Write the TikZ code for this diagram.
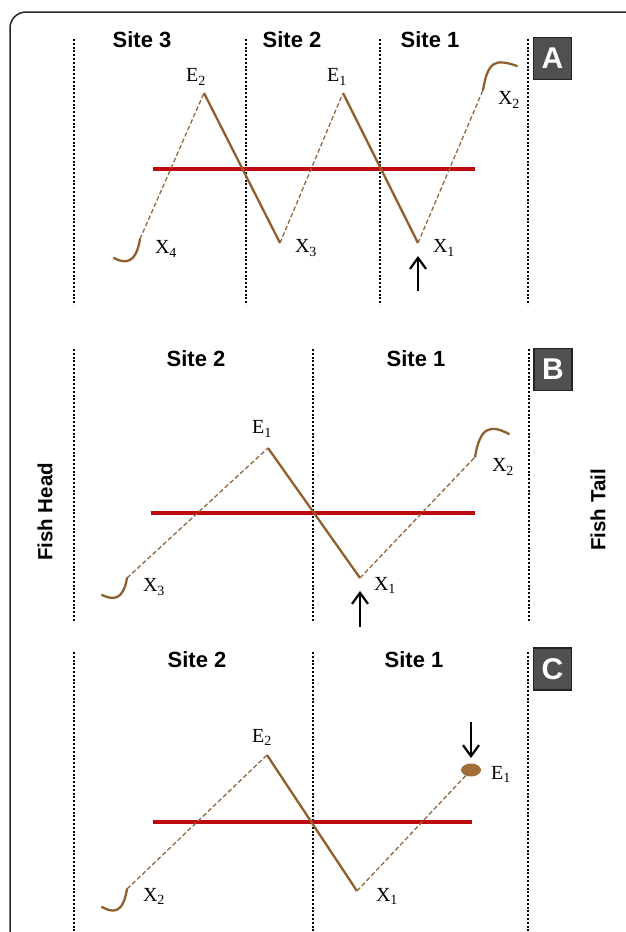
\documentclass[tikz,border=0pt]{standalone}
\usepackage{fontspec}
\setmainfont{Liberation Serif}
\setsansfont{Liberation Sans}
\usetikzlibrary{arrows.meta,shapes.geometric}
\definecolor{solidbrown}{RGB}{145,95,45}
\definecolor{dashbrown}{RGB}{145,105,65}
\definecolor{redline}{RGB}{190,10,15}
\definecolor{boxgray}{RGB}{80,80,80}
\definecolor{boxedge}{RGB}{35,35,35}
\definecolor{dotbrown}{RGB}{160,110,55}
\tikzset{
 sitediv/.style={line width=2.2pt, dash pattern=on 2pt off 1.8pt},
 solidseg/.style={draw=solidbrown, line width=2.3pt},
 dashseg/.style={draw=dashbrown, line width=1.3pt, dash pattern=on 4.5pt off 2.5pt},
 hookseg/.style={draw=solidbrown, line width=2.3pt, line cap=round},
 midline/.style={draw=redline, line width=4pt},
 sitelabel/.style={font=\sffamily\bfseries\fontsize{22}{24}\selectfont, inner sep=0pt},
 ptlabel/.style={font=\fontsize{20}{22}\selectfont, inner sep=0pt},
 panelbox/.style={fill=boxgray, draw=boxedge, line width=1.5pt, minimum width=38pt, minimum height=42pt, inner sep=0pt, text=white, font=\sffamily\bfseries\fontsize{30}{30}\selectfont},
 markarrow/.style={line width=2.2pt, -{Straight Barb[length=11pt,width=16pt,line width=2.2pt]}},
 sidelabel/.style={font=\sffamily\bfseries\fontsize{20.5}{24}\selectfont, rotate=90, inner sep=0pt},
 framebox/.style={draw=black!85, line width=1.5pt, rounded corners=16pt},
}
\begin{document}
\begin{tikzpicture}[x=1pt,y=-1pt]
\useasboundingbox (0,0) rectangle (625,932);
% outer frame
\coordinate (fb) at (10,940);
\coordinate (ft) at (10,12);
\coordinate (fr) at (640,12);
\draw[framebox] (fb) -- (ft) -- (fr);

% ================= Panel A =================
\foreach \n/\x in {1/74,2/246,3/380,4/528}{
  \coordinate (aDt\n) at (\x,39);
  \coordinate (aDb\n) at (\x,305);
  \draw[sitediv] (aDt\n) -- (aDb\n);
}
\node[sitelabel] (aS3) at (142,40) {Site 3};
\node[sitelabel] (aS2) at (292,40) {Site 2};
\node[sitelabel] (aS1) at (430,40) {Site 1};
\node[panelbox] (aBox) at (552.5,58.5) {A};

\coordinate (aRL) at (153,169);
\coordinate (aRR) at (475,169);
\draw[midline] (aRL) -- (aRR);

\coordinate (aX4top) at (140,239);
\coordinate (aX4end) at (114,258);
\coordinate (aE2) at (204,93);
\coordinate (aX3) at (280,243);
\coordinate (aE1) at (343,93);
\coordinate (aX1) at (418,243);
\coordinate (aX2top) at (483,90);
\coordinate (aX2end) at (517,66);
\draw[hookseg] (aX4top) .. controls (136,264) and (125,264) .. (aX4end);
\draw[dashseg] (aX4top) -- (aE2);
\draw[solidseg] (aE2) -- (aX3);
\draw[dashseg] (aX3) -- (aE1);
\draw[solidseg] (aE1) -- (aX1);
\draw[dashseg] (aX1) -- (aX2top);
\draw[hookseg] (aX2top) .. controls (488,62) and (494,58) .. (aX2end);

\node[ptlabel] (aLE2) at (196,77) {E\textsubscript{2}};
\node[ptlabel] (aLE1) at (337,77) {E\textsubscript{1}};
\node[ptlabel] (aLX4) at (166,249) {X\textsubscript{4}};
\node[ptlabel] (aLX3) at (306,248) {X\textsubscript{3}};
\node[ptlabel] (aLX1) at (444,248) {X\textsubscript{1}};
\node[ptlabel] (aLX2) at (509,100) {X\textsubscript{2}};

\coordinate (aArT) at (418,291);
\coordinate (aArH) at (418,256);
\draw[markarrow] (aArT) -- (aArH);

% ================= Panel B =================
\foreach \n/\x in {1/74,2/313,3/529}{
  \coordinate (bDt\n) at (\x,349);
  \coordinate (bDb\n) at (\x,622);
  \draw[sitediv] (bDt\n) -- (bDb\n);
}
\node[sitelabel] (bS2) at (196,359) {Site 2};
\node[sitelabel] (bS1) at (416,359) {Site 1};
\node[panelbox] (bBox) at (553,369.5) {B};

\node[sidelabel] (head) at (45,512) {Fish Head};
\node[sidelabel] (tail) at (598,510) {Fish Tail};

\coordinate (bRL) at (151,513);
\coordinate (bRR) at (475,513);
\draw[midline] (bRL) -- (bRR);

\coordinate (bX3top) at (127,578);
\coordinate (bX3end) at (102,595);
\coordinate (bE1) at (268,448);
\coordinate (bX1) at (360,578);
\coordinate (bX2top) at (475,457);
\coordinate (bX2end) at (509,434);
\draw[hookseg] (bX3top) .. controls (123,601) and (113,600) .. (bX3end);
\draw[dashseg] (bX3top) -- (bE1);
\draw[solidseg] (bE1) -- (bX1);
\draw[dashseg] (bX1) -- (bX2top);
\draw[hookseg] (bX2top) .. controls (480,427) and (490,424) .. (bX2end);

\node[ptlabel] (bLE1) at (262,429) {E\textsubscript{1}};
\node[ptlabel] (bLX3) at (154,587) {X\textsubscript{3}};
\node[ptlabel] (bLX1) at (385,585) {X\textsubscript{1}};
\node[ptlabel] (bLX2) at (503,467) {X\textsubscript{2}};

\coordinate (bArT) at (360,627);
\coordinate (bArH) at (360,591);
\draw[markarrow] (bArT) -- (bArH);

% ================= Panel C =================
\foreach \n/\x in {1/74,2/313,3/528}{
  \coordinate (cDt\n) at (\x,652);
  \coordinate (cDb\n) at (\x,935);
  \draw[sitediv] (cDt\n) -- (cDb\n);
}
\node[sitelabel] (cS2) at (197,660) {Site 2};
\node[sitelabel] (cS1) at (414,660) {Site 1};
\node[panelbox] (cBox) at (552.5,669) {C};

\coordinate (cRL) at (153,822);
\coordinate (cRR) at (472,822);
\draw[midline] (cRL) -- (cRR);

\coordinate (cX2top) at (127,889);
\coordinate (cX2end) at (102,907);
\coordinate (cE2) at (267,755);
\coordinate (cX1) at (357,891);
\node[ellipse, fill=dotbrown, minimum width=20pt, minimum height=13pt, inner sep=0pt] (cDot) at (471,770) {};
\draw[hookseg] (cX2top) .. controls (123,914) and (113,913) .. (cX2end);
\draw[dashseg] (cX2top) -- (cE2);
\draw[solidseg] (cE2) -- (cX1);
\draw[dashseg] (cX1) -- (cDot);

\node[ptlabel] (cLE2) at (262,737) {E\textsubscript{2}};
\node[ptlabel] (cLX2) at (154,896) {X\textsubscript{2}};
\node[ptlabel] (cLX1) at (387,896) {X\textsubscript{1}};
\node[ptlabel] (cLE1) at (501,774) {E\textsubscript{1}};

\coordinate (cArT) at (471,722);
\coordinate (cArH) at (471,758);
\draw[markarrow] (cArT) -- (cArH);
\end{tikzpicture}
\end{document}
